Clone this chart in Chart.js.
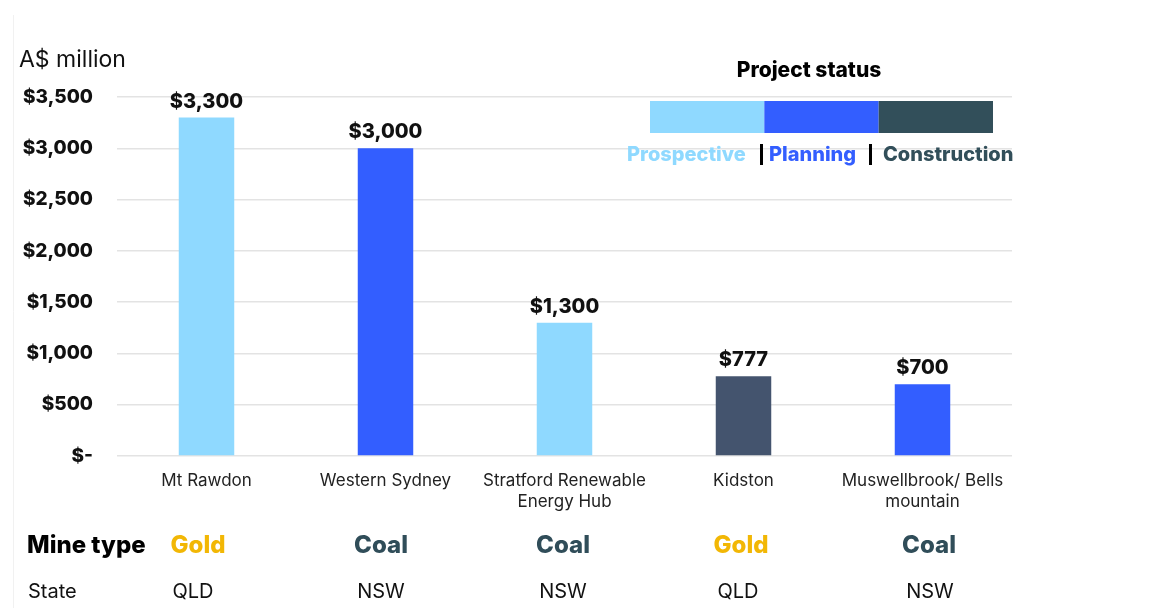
<!DOCTYPE html>
<html>
<head>
<meta charset="utf-8">
<script src="https://cdn.jsdelivr.net/npm/chart.js@4/dist/chart.umd.min.js"></script>
<style>
  html, body { margin: 0; padding: 0; background: #fff; }
  #wrap { position: relative; width: 1154px; height: 608px; }
</style>
</head>
<body>
<div id="wrap"><canvas id="mineChart" width="1154" height="608"></canvas></div>
<script>
// Project data
const projects = ['Mt Rawdon', 'Western Sydney', ['Stratford Renewable', 'Energy Hub'], 'Kidston', ['Muswellbrook/ Bells', 'mountain']];
const investment = [3300, 3000, 1300, 777, 700];
const status = ['Prospective', 'Planning', 'Prospective', 'Construction', 'Planning'];
const mineType = ['Gold', 'Coal', 'Coal', 'Gold', 'Coal'];
const states = ['QLD', 'NSW', 'NSW', 'QLD', 'NSW'];
const valueLabels = ['$3,300', '$3,000', '$1,300', '$777', '$700'];
const yTickValues = [0, 500, 1000, 1500, 2000, 2500, 3000, 3500];
const yTickLabels = ['$-', '$500', '$1,000', '$1,500', '$2,000', '$2,500', '$3,000', '$3,500'];
const statusOrder = ['Prospective', 'Planning', 'Construction'];

const statusColours = { Prospective: '#8fd9ff', Planning: '#335eff', Construction: '#324f5a' };
const barColours = { Prospective: '#8fd9ff', Planning: '#335eff', Construction: '#44546e' };
const typeColours = { Gold: '#f2b705', Coal: '#304d59' };

// column centres of the table under the chart
const typeColX = [198, 381, 563, 741, 929];
const stateColX = [193, 381, 563, 738, 930];

const FONT = 'Inter, "Noto Sans", sans-serif';

// value labels, the table under the axis and the status key
const extras = {
    id: 'extras',
    afterDatasetsDraw(chart) {
        const ctx = chart.ctx;
        const meta = chart.getDatasetMeta(0);
        ctx.save();

        // faint frame edge on the left
        ctx.strokeStyle = '#f1f1f1';
        ctx.lineWidth = 1;
        ctx.beginPath();
        ctx.moveTo(13.5, 15);
        ctx.lineTo(13.5, 608);
        ctx.stroke();

        // unit label
        ctx.fillStyle = '#111';
        ctx.font = '400 23px ' + FONT;
        ctx.textAlign = 'left';
        ctx.textBaseline = 'middle';
        ctx.fillText('A$ million', 19, 60);

        // values over the bars
        ctx.font = '800 20px ' + FONT;
        ctx.textAlign = 'center';
        meta.data.forEach((bar, i) => {
            ctx.fillText(valueLabels[i], bar.x, bar.y - 16);
        });

        // mine type row
        ctx.textAlign = 'left';
        ctx.font = '800 24px ' + FONT;
        ctx.fillStyle = '#000';
        ctx.fillText('Mine type', 27, 546);
        ctx.textAlign = 'center';
        mineType.forEach((t, i) => {
            ctx.fillStyle = typeColours[t];
            ctx.fillText(t, typeColX[i], 546);
        });

        // state row
        ctx.font = '400 20px ' + FONT;
        ctx.fillStyle = '#111';
        ctx.textAlign = 'left';
        ctx.fillText('State', 28, 592);
        ctx.textAlign = 'center';
        states.forEach((s, i) => {
            ctx.fillText(s, stateColX[i], 592);
        });

        // status key
        ctx.fillStyle = '#000';
        ctx.font = '800 21px ' + FONT;
        ctx.fillText('Project status', 809, 71);
        const kx = 650, kw = 343, ky = 101, kh = 32;
        statusOrder.forEach((s, i) => {
            ctx.fillStyle = statusColours[s];
            ctx.fillRect(kx + i * kw / 3, ky, kw / 3, kh);
        });
        ctx.font = '800 20px ' + FONT;
        ctx.textAlign = 'left';
        ctx.fillStyle = statusColours.Prospective;
        ctx.fillText('Prospective', 627, 155);
        ctx.fillStyle = statusColours.Planning;
        ctx.fillText('Planning', 769, 155);
        ctx.fillStyle = statusColours.Construction;
        ctx.fillText('Construction', 883, 155);
        ctx.fillStyle = '#000';
        ctx.fillRect(760, 144, 3, 21);
        ctx.fillRect(869, 144, 3, 21);

        ctx.restore();
    }
};

new Chart(document.getElementById('mineChart'), {
    type: 'bar',
    data: {
        labels: projects,
        datasets: [{
            data: investment,
            backgroundColor: status.map(s => barColours[s]),
            borderWidth: 0,
            barPercentage: 0.31,
            categoryPercentage: 1
        }]
    },
    options: {
        responsive: false,
        animation: false,
        layout: { padding: { top: 97, right: 142, left: 0, bottom: 0 } },
        plugins: {
            legend: { display: false },
            tooltip: { enabled: false }
        },
        scales: {
            x: {
                grid: { display: false },
                border: { display: false },
                ticks: {
                    color: '#222',
                    font: { family: FONT, size: 17, lineHeight: 1.25 },
                    padding: 6,
                    maxRotation: 0,
                    autoSkip: false
                },
                afterFit: scale => { scale.height = 152; }
            },
            y: {
                min: 0,
                max: 3500,
                afterBuildTicks: scale => {
                    scale.ticks = yTickValues.map(v => ({ value: v }));
                },
                grid: { color: '#e3e3e3', lineWidth: 1.5, drawTicks: false },
                border: { display: false },
                ticks: {
                    color: '#111',
                    font: { family: FONT, size: 19, weight: '800' },
                    padding: 24,
                    callback: value => yTickLabels[yTickValues.indexOf(value)]
                },
                afterFit: scale => { scale.width = 117; }
            }
        }
    },
    plugins: [extras]
});
</script>
</body>
</html>
